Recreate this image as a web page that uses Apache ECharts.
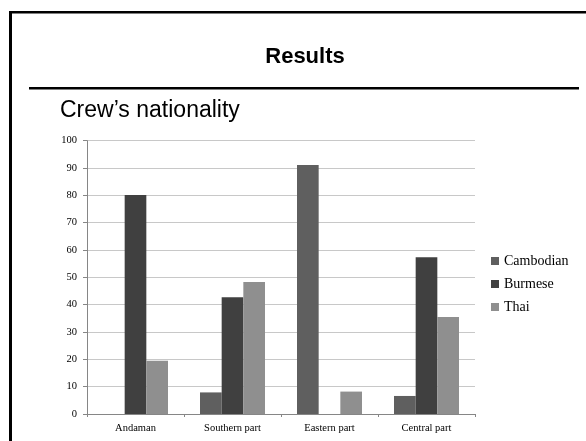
<!DOCTYPE html>
<html>
<head>
<meta charset="utf-8">
<script src="https://cdn.jsdelivr.net/npm/echarts@6/dist/echarts.min.js"></script>
<style>
  html, body { margin: 0; padding: 0; background: #ffffff; }
  #chart { width: 586px; height: 441px; }
</style>
</head>
<body>
<div id="chart"></div>
<script>
// Regions surveyed and share of crew (%) by nationality
const regions = ['Andaman', 'Southern part', 'Eastern part', 'Central part'];
const cambodian = [0, 7.9, 91.1, 6.6];
const burmese = [80.1, 42.7, 0, 57.4];
const thai = [19.5, 48.3, 8.2, 35.5];
const yTicks = { min: 0, max: 100, step: 10 };

const serif = '"Liberation Serif", "DejaVu Serif", serif';
const sans = '"Liberation Sans", Arial, sans-serif';

const chart = echarts.init(document.getElementById('chart'), null, { renderer: 'canvas' });

function barSeries(name, values, color) {
  return {
    name: name,
    type: 'bar',
    data: values,
    barGap: '0%',
    barCategoryGap: '33%',
    itemStyle: { color: color },
    emphasis: { disabled: true }
  };
}

chart.setOption({
  animation: false,
  backgroundColor: '#ffffff',
  graphic: [
    // slide frame (left and top edges)
    { type: 'rect', shape: { x: 9, y: 11, width: 3, height: 430 }, style: { fill: '#000' }, silent: true },
    { type: 'rect', shape: { x: 9, y: 11, width: 577, height: 2.5 }, style: { fill: '#000' }, silent: true },
    // rule under the heading
    { type: 'rect', shape: { x: 29, y: 87, width: 550, height: 2.5 }, style: { fill: '#000' }, silent: true },
    {
      type: 'text', x: 305, y: 57,
      style: { text: 'Results', font: 'bold 22px ' + sans, fill: '#000', align: 'center', verticalAlign: 'middle' },
      silent: true
    },
    {
      type: 'text', x: 60, y: 111,
      style: { text: 'Crew\u2019s nationality', font: '23px ' + sans, fill: '#000', align: 'left', verticalAlign: 'middle' },
      silent: true
    }
  ],
  grid: { left: 87, right: 111, top: 140.7, bottom: 27, containLabel: false },
  legend: {
    orient: 'vertical',
    left: 486,
    top: 249,
    itemWidth: 8,
    itemHeight: 8,
    itemGap: 9,
    icon: 'rect',
    selectedMode: false,
    textStyle: { fontFamily: serif, fontSize: 14, color: '#000', lineHeight: 14 },
    data: ['Cambodian', 'Burmese', 'Thai']
  },
  xAxis: {
    type: 'category',
    data: regions,
    axisLine: { lineStyle: { color: '#868686', width: 1 } },
    axisTick: { show: true, length: 3, lineStyle: { color: '#868686' } },
    axisLabel: { fontFamily: serif, fontSize: 10.5, color: '#000', margin: 9 }
  },
  yAxis: {
    type: 'value',
    min: yTicks.min,
    max: yTicks.max,
    interval: yTicks.step,
    axisLine: { show: true, lineStyle: { color: '#868686', width: 1 } },
    axisTick: { show: true, length: 4, lineStyle: { color: '#868686' } },
    axisLabel: { fontFamily: serif, fontSize: 10.5, color: '#000', margin: 10 },
    splitLine: { lineStyle: { color: '#c8c8c8', width: 1 } }
  },
  series: [
    barSeries('Cambodian', cambodian, '#5f5f5f'),
    barSeries('Burmese', burmese, '#404040'),
    barSeries('Thai', thai, '#8f8f8f')
  ]
});
</script>
</body>
</html>
